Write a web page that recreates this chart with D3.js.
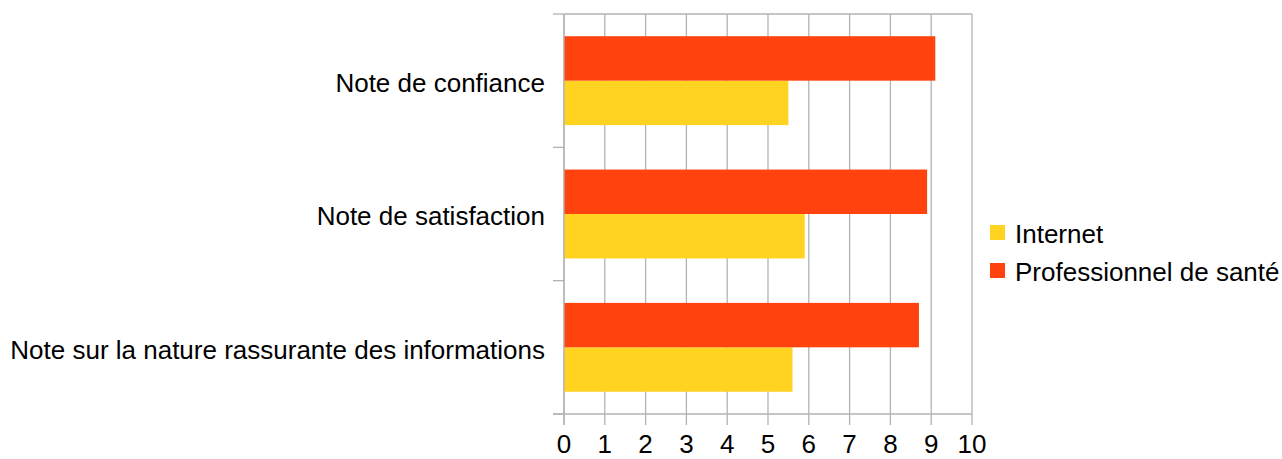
<!DOCTYPE html>
<html>
<head>
<meta charset="utf-8">
<script src="https://cdn.jsdelivr.net/npm/d3@7"></script>
<style>
  html, body { margin: 0; padding: 0; background: #fff; }
  svg { display: block; }
  text { font-family: "Liberation Sans", Arial, sans-serif; fill: #000; }
</style>
</head>
<body>
<svg id="chart" width="1282" height="459"></svg>
<script>
const categories = ["Note de confiance", "Note de satisfaction", "Note sur la nature rassurante des informations"];
const seriesNames = ["Internet", "Professionnel de santé"];
const internetValues = [5.5, 5.9, 5.6];
const professionnelValues = [9.1, 8.9, 8.7];
const xTicks = [0, 1, 2, 3, 4, 5, 6, 7, 8, 9, 10];
const colors = ["#ffd320", "#ff420e"];

const series = [internetValues, professionnelValues];
const svg = d3.select("#chart");
const m = { left: 564, right: 972, top: 14, bottom: 414 };
const fontSize = 26;

const x = d3.scaleLinear().domain([0, 10]).range([m.left, m.right]);
const y = d3.scaleBand().domain(categories).range([m.top, m.bottom]).padding(0);
const inner = d3.scaleBand().domain([1, 0]).range([0, y.bandwidth()]).paddingInner(0).paddingOuter(0.5);

// gridlines
svg.append("g").selectAll("line").data(xTicks).join("line")
  .attr("x1", d => x(d)).attr("x2", d => x(d))
  .attr("y1", m.top).attr("y2", m.bottom + 11)
  .attr("stroke", "#b3b3b3").attr("stroke-width", 1.3);

// top border
svg.append("line").attr("x1", m.left).attr("x2", m.right).attr("y1", m.top).attr("y2", m.top)
  .attr("stroke", "#b3b3b3").attr("stroke-width", 1.3);

// bars
categories.forEach((c, ci) => {
  series.forEach((vals, si) => {
    svg.append("rect")
      .attr("x", x(0))
      .attr("y", y(c) + inner(si))
      .attr("width", x(vals[ci]) - x(0))
      .attr("height", inner.bandwidth())
      .attr("fill", colors[si]);
  });
});

// bottom axis line
svg.append("line").attr("x1", m.left - 11).attr("x2", m.right).attr("y1", m.bottom).attr("y2", m.bottom)
  .attr("stroke", "#b3b3b3").attr("stroke-width", 1.3);
// left axis line
svg.append("line").attr("x1", m.left).attr("x2", m.left).attr("y1", m.top).attr("y2", m.bottom + 11)
  .attr("stroke", "#b3b3b3").attr("stroke-width", 1.3);

// y ticks at band boundaries
const yBounds = categories.map(c => y(c)).concat([m.bottom]);
svg.append("g").selectAll("line").data(yBounds).join("line")
  .attr("x1", m.left - 11).attr("x2", m.left)
  .attr("y1", d => d).attr("y2", d => d)
  .attr("stroke", "#b3b3b3").attr("stroke-width", 1.3);

// y labels
svg.append("g").selectAll("text").data(categories).join("text")
  .attr("x", m.left - 19)
  .attr("y", d => y(d) + y.bandwidth() / 2)
  .attr("dy", "0.43em")
  .attr("text-anchor", "end")
  .attr("font-size", fontSize)
  .text(d => d);

// x labels
svg.append("g").selectAll("text").data(xTicks).join("text")
  .attr("x", d => x(d))
  .attr("y", 453)
  .attr("text-anchor", "middle")
  .attr("font-size", fontSize)
  .text(d => d);

// legend
const legend = svg.append("g");
seriesNames.forEach((n, i) => {
  const ly = 225 + i * 38;
  legend.append("rect").attr("x", 990).attr("y", ly).attr("width", 15).attr("height", 15).attr("fill", colors[i]);
  legend.append("text").attr("x", 1015).attr("y", ly + 17.8).attr("font-size", fontSize).text(n);
});
</script>
</body>
</html>
